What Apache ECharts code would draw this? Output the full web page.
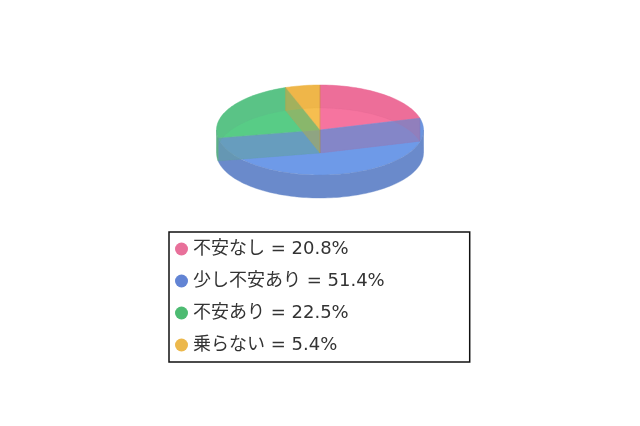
<!DOCTYPE html>
<html><head><meta charset="utf-8">
<style>html,body{margin:0;padding:0;background:#fff}#c{width:640px;height:426px;filter:blur(0.55px)}</style>
<script src="https://cdn.jsdelivr.net/npm/echarts@6/dist/echarts.min.js"></script>
</head><body><div id="c"></div>
<script>
const names = ['不安なし', '少し不安あり', '不安あり', '乗らない'];
const shares = [20.8, 51.4, 22.5, 5.4];
const topColors = ['#f6749f', '#6e9ae8', '#58cc86', '#f6be50'];
const wallColors = ['#d85f8c', '#6a8acb', '#5fb088', '#dda63c'];
const legendColors = ['#e8709a', '#6284d4', '#4dbb72', '#ecb84c'];

const CX = 320, CY = 130, RX = 103.5, RY = 45, DEPTH = 23;
const total = shares.reduce((a, b) => a + b, 0);
const starts = [];
shares.reduce((acc, v, i) => { starts[i] = acc; return acc + v; }, 0);
const ang = v => v / total * 2 * Math.PI;
const pt = (a, dy) => [CX + RX * Math.sin(a), CY - RY * Math.cos(a) + (dy || 0)];
function arc(a0, a1, dy) {
  const n = Math.max(2, Math.ceil((a1 - a0) / 0.03)), out = [];
  for (let i = 0; i <= n; i++) out.push(pt(a0 + (a1 - a0) * i / n, dy));
  return out;
}
const poly = (points, fill, opacity, z2) => ({
  type: 'polygon', z2: z2 || 0, silent: true,
  shape: { points }, style: { fill, opacity, stroke: fill, lineWidth: 0.4 }
});

function faceSeries(i) {
  return {
    type: 'custom', name: names[i], coordinateSystem: 'none', z: 2,
    itemStyle: { color: legendColors[i] },
    data: [[starts[i], shares[i]]],
    renderItem: (params, api) => {
      const a0 = ang(api.value(0)), a1 = a0 + ang(api.value(1));
      return poly([[CX, CY]].concat(arc(a0, a1)), topColors[i], 1);
    }
  };
}

const wallSeries = {
  type: 'custom', name: 'walls', coordinateSystem: 'none', z: 3, silent: true,
  data: shares.map((v, i) => [starts[i], v, i]),
  renderItem: (params, api) => {
    const a0 = ang(api.value(0)), a1 = a0 + ang(api.value(1)), i = api.value(2);
    const col = wallColors[i], children = [];
    const outer = (p, q, op) => {
      if (q > p) children.push(poly(arc(p, q, 0).concat(arc(p, q, DEPTH).reverse()), col, op));
    };
    const HALF = Math.PI / 2, LAST = Math.PI * 1.5;
    // front of the rim is solid, the rear of the rim shows through the top
    outer(Math.max(a0, HALF), Math.min(a1, LAST), 1);
    outer(a0, Math.min(a1, HALF), 0.3);
    outer(Math.max(a0, LAST), a1, 0.3);
    // radial cut faces show through the top
    [a0, a1].forEach(a => {
      const p = pt(a, 0), q = pt(a, DEPTH);
      children.push(poly([[CX, CY], p, q, [CX, CY + DEPTH]], col, 0.36));
    });
    return { type: 'group', children };
  }
};

const chart = echarts.init(document.getElementById('c'), null, { renderer: 'canvas' });
chart.setOption({
  animation: false,
  backgroundColor: '#ffffff',
  legend: {
    orient: 'vertical', left: 169, top: 232,
    data: names,
    icon: 'circle', itemWidth: 13, itemHeight: 13, itemGap: 12,
    selectedMode: false,
    backgroundColor: '#fff', borderColor: '#111', borderWidth: 1.5, borderRadius: 0,
    padding: [7, 85, 7, 6],
    formatter: n => n + ' = ' + shares[names.indexOf(n)].toFixed(1) + '%',
    textStyle: { fontFamily: '"DejaVu Sans","Noto Sans CJK JP",sans-serif', fontSize: 18, color: '#333', lineHeight: 20 }
  },
  series: names.map((n, i) => faceSeries(i)).concat([wallSeries])
});
</script></body></html>
